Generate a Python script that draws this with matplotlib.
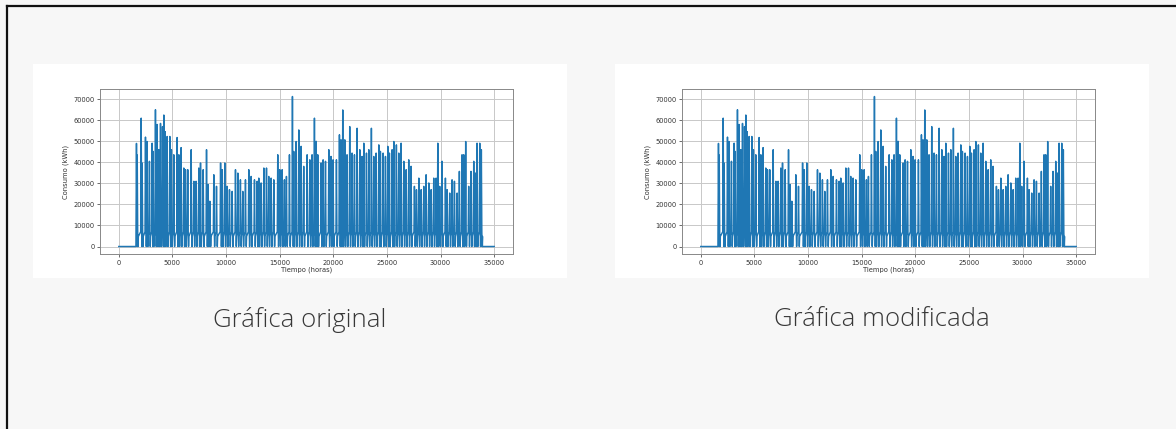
import matplotlib
matplotlib.use("Agg")
import matplotlib.pyplot as plt
from matplotlib.patches import Rectangle
from matplotlib.lines import Line2D

# ---- data ----
peak_hours = [1650, 1720, 2090, 2180, 2490, 2640, 2860, 3110, 3200, 3420,
              3580, 3730, 3890, 4080, 4200, 4320, 4510, 4760, 4910, 5130,
              5440, 5600, 5810, 6060, 6220, 6430, 6750, 7000, 7210, 7460,
              7620, 7870, 8180, 8330, 8490, 8860, 9110, 9490, 9640, 9880,
              10100, 10320, 10570, 10880, 11100, 11340, 11560, 11810, 12120, 12340,
              12650, 12900, 13050, 13270, 13520, 13770, 13980, 14200, 14450, 14820,
              15010, 15230, 15440, 15630, 15910, 16190, 16310, 16530, 16780, 17000,
              17240, 17560, 17810, 18020, 18240, 18400, 18550, 18860, 19050, 19270,
              19580, 19790, 19980, 20290, 20570, 20720, 20880, 21070, 21280, 21530,
              21750, 21970, 22220, 22470, 22680, 22840, 23090, 23310, 23550, 23770,
              23990, 24240, 24390, 24640, 24860, 25080, 25230, 25480, 25640, 25880,
              26100, 26320, 26570, 26790, 27030, 27250, 27560, 27750, 27970, 28190,
              28430, 28650, 28900, 29120, 29360, 29580, 29740, 29920, 30140, 30450,
              30610, 30850, 31070, 31290, 31540, 31750, 32000, 32160, 32340, 32620,
              32840, 33090, 33250, 33400, 33650, 33800]
peak_kwh = [49000, 43500, 61000, 39700, 52000, 49900, 40500, 49100, 45200, 65000,
            58000, 46000, 58500, 57000, 62500, 54600, 52300, 52300, 46000, 43600,
            51800, 43600, 47000, 37300, 36500, 36500, 46000, 31000, 31000, 37300,
            39700, 36500, 46000, 29400, 21500, 34100, 28600, 39700, 36500, 39700,
            28600, 27000, 26200, 36500, 34900, 31700, 26200, 31700, 36500, 33300,
            31700, 31000, 32500, 30200, 37300, 37300, 33300, 32500, 31700, 43600,
            36500, 36500, 31700, 33300, 43600, 71300, 45200, 49900, 55400, 47600,
            38100, 43600, 41200, 43600, 61000, 50000, 43600, 39700, 41200, 40500,
            46000, 42800, 41200, 41200, 53100, 50700, 64900, 50700, 43600, 57000,
            44400, 43600, 56200, 46000, 42800, 49100, 44400, 46000, 56200, 42800,
            44400, 48300, 45200, 44400, 42800, 47600, 44400, 46000, 49900, 48300,
            44400, 49100, 40500, 36500, 41200, 38100, 28600, 27000, 32500, 27000,
            28600, 34100, 30200, 27000, 32500, 32500, 49100, 28600, 40500, 32500,
            27000, 25400, 31700, 31000, 25400, 35700, 43600, 43600, 49900, 28600,
            35700, 40500, 34900, 49100, 49100, 46000]
base_high_kwh = 7000
base_low_kwh = 4800
start_hours = [0, 1600]
end_hours = [33900, 35000]
captions = ["Gráfica original", "Gráfica modificada"]
y_ticks = [0, 10000, 20000, 30000, 40000, 50000, 60000, 70000]
x_ticks = [0, 5000, 10000, 15000, 20000, 25000, 30000, 35000]

# ---- build the line through the listed points ----
xs = list(start_hours)
ys = [0, 0]
for h, v in zip(peak_hours, peak_kwh):
    xs += [h - 45, h, h + 45, h + 75, h + 105]
    ys += [base_high_kwh, v, base_high_kwh, 0, base_low_kwh]
xs += end_hours
ys += [0, 0]

W, H = 1176, 429
fig = plt.figure(figsize=(W / 100, H / 100), dpi=100)
fig.patch.set_facecolor("#f7f7f7")

# slide border (top and left)
fig.add_artist(Line2D([6.5 / W, 1.0], [1 - 5.5 / H, 1 - 5.5 / H], color="#111111", lw=1.6))
fig.add_artist(Line2D([6.5 / W, 6.5 / W], [0.0, 1 - 5.5 / H], color="#111111", lw=1.6))

panels = [(33, 567), (615, 1149)]
for (px0, px1), cap in zip(panels, captions):
    fig.add_artist(Rectangle((px0 / W, 1 - 278 / H), (px1 - px0) / W, (278 - 64) / H,
                             transform=fig.transFigure, facecolor="white",
                             edgecolor="none", zorder=0))
    ax_left = px0 + 67
    ax = fig.add_axes([ax_left / W, 1 - 254 / H, 413 / W, 165 / H])
    ax.set_facecolor("white")
    ax.plot(xs, ys, color="#1f77b4", lw=1.05)
    ax.set_xticks(x_ticks)
    ax.set_yticks(y_ticks)
    ax.grid(True, color="#c8c8c8", lw=0.7)
    ax.set_axisbelow(True)
    ax.tick_params(labelsize=4.8, length=2, width=0.5, pad=2, colors="#333333")
    for s in ax.spines.values():
        s.set_color("#888888")
        s.set_linewidth(0.7)
    ax.set_xlabel("Tiempo (horas)", fontsize=4.9, labelpad=1, color="#333333")
    ax.set_ylabel("Consumo (kWh)", fontsize=4.9, labelpad=3, color="#333333")
    fig.text((px0 + px1) / 2 / W, 1 - 320 / H, cap, ha="center", va="center",
             fontsize=18.5, color="#383838", family="Open Sans", weight="light")

fig.savefig("out.png", dpi=100, facecolor=fig.get_facecolor())
